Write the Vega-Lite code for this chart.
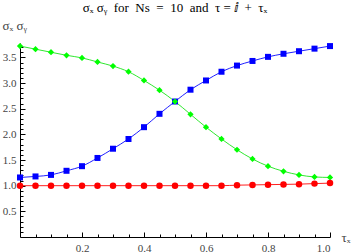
{
  "$schema": "https://vega.github.io/schema/vega-lite/v6.json",
  "width": 310,
  "height": 194,
  "autosize": "none",
  "padding": {"left": 20, "top": 43, "right": 30, "bottom": 15},
  "title": {
    "text": "σₓ σᵧ\u00a0\u00a0for\u00a0\u00a0Ns\u00a0\u00a0=\u00a0\u00a010\u00a0\u00a0and\u00a0\u00a0τ\u00a0=\u00a0ⅈ\u00a0\u00a0+\u00a0\u00a0τₓ",
    "font": "Liberation Serif",
    "fontSize": 13,
    "fontWeight": "normal",
    "color": "#000000",
    "anchor": "middle",
    "frame": "group",
    "baseline": "alphabetic",
    "offset": -6
  },
  "config": {
    "view": {"stroke": null},
    "axis": {
      "labelFont": "Liberation Serif",
      "titleFont": "Liberation Serif",
      "labelColor": "#444444",
      "titleColor": "#444444",
      "labelFontSize": 11,
      "titleFontSize": 13,
      "titleFontWeight": "normal",
      "domainColor": "#000000",
      "tickColor": "#000000",
      "grid": false
    }
  },
  "data": {
    "values": [
      {"tau": 0.00, "v": 1.16, "s": "s1"}, {"tau": 0.05, "v": 1.18, "s": "s1"}, {"tau": 0.10, "v": 1.21, "s": "s1"},
      {"tau": 0.15, "v": 1.29, "s": "s1"}, {"tau": 0.20, "v": 1.38, "s": "s1"}, {"tau": 0.25, "v": 1.54, "s": "s1"},
      {"tau": 0.30, "v": 1.72, "s": "s1"}, {"tau": 0.35, "v": 1.91, "s": "s1"}, {"tau": 0.40, "v": 2.14, "s": "s1"},
      {"tau": 0.45, "v": 2.40, "s": "s1"}, {"tau": 0.50, "v": 2.64, "s": "s1"}, {"tau": 0.55, "v": 2.87, "s": "s1"},
      {"tau": 0.60, "v": 3.05, "s": "s1"}, {"tau": 0.65, "v": 3.22, "s": "s1"}, {"tau": 0.70, "v": 3.34, "s": "s1"},
      {"tau": 0.75, "v": 3.43, "s": "s1"}, {"tau": 0.80, "v": 3.51, "s": "s1"}, {"tau": 0.85, "v": 3.57, "s": "s1"},
      {"tau": 0.90, "v": 3.62, "s": "s1"}, {"tau": 0.95, "v": 3.67, "s": "s1"}, {"tau": 1.00, "v": 3.72, "s": "s1"},
      {"tau": 0.00, "v": 3.72, "s": "s2"}, {"tau": 0.05, "v": 3.66, "s": "s2"}, {"tau": 0.10, "v": 3.60, "s": "s2"},
      {"tau": 0.15, "v": 3.54, "s": "s2"}, {"tau": 0.20, "v": 3.49, "s": "s2"}, {"tau": 0.25, "v": 3.41, "s": "s2"},
      {"tau": 0.30, "v": 3.33, "s": "s2"}, {"tau": 0.35, "v": 3.22, "s": "s2"}, {"tau": 0.40, "v": 3.05, "s": "s2"},
      {"tau": 0.45, "v": 2.86, "s": "s2"}, {"tau": 0.50, "v": 2.64, "s": "s2"}, {"tau": 0.55, "v": 2.39, "s": "s2"},
      {"tau": 0.60, "v": 2.14, "s": "s2"}, {"tau": 0.65, "v": 1.91, "s": "s2"}, {"tau": 0.70, "v": 1.70, "s": "s2"},
      {"tau": 0.75, "v": 1.52, "s": "s2"}, {"tau": 0.80, "v": 1.38, "s": "s2"}, {"tau": 0.85, "v": 1.28, "s": "s2"},
      {"tau": 0.90, "v": 1.21, "s": "s2"}, {"tau": 0.95, "v": 1.17, "s": "s2"}, {"tau": 1.00, "v": 1.16, "s": "s2"},
      {"tau": 0.00, "v": 1.00, "s": "s3"}, {"tau": 0.05, "v": 1.00, "s": "s3"}, {"tau": 0.10, "v": 1.00, "s": "s3"},
      {"tau": 0.15, "v": 1.00, "s": "s3"}, {"tau": 0.20, "v": 1.00, "s": "s3"}, {"tau": 0.25, "v": 1.00, "s": "s3"},
      {"tau": 0.30, "v": 1.00, "s": "s3"}, {"tau": 0.35, "v": 1.00, "s": "s3"}, {"tau": 0.40, "v": 1.00, "s": "s3"},
      {"tau": 0.45, "v": 1.00, "s": "s3"}, {"tau": 0.50, "v": 1.00, "s": "s3"}, {"tau": 0.55, "v": 1.00, "s": "s3"},
      {"tau": 0.60, "v": 1.00, "s": "s3"}, {"tau": 0.65, "v": 1.00, "s": "s3"}, {"tau": 0.70, "v": 1.01, "s": "s3"},
      {"tau": 0.75, "v": 1.015, "s": "s3"}, {"tau": 0.80, "v": 1.02, "s": "s3"}, {"tau": 0.85, "v": 1.025, "s": "s3"},
      {"tau": 0.90, "v": 1.03, "s": "s3"}, {"tau": 0.95, "v": 1.04, "s": "s3"}, {"tau": 1.00, "v": 1.05, "s": "s3"}
    ]
  },
  "layer": [
    {
      "mark": {"type": "line", "interpolate": "monotone", "strokeWidth": 1, "clip": false},
      "encoding": {
        "x": {
          "field": "tau", "type": "quantitative",
          "scale": {"domain": [0, 1], "nice": false, "zero": false},
          "axis": {
            "orient": "bottom", "title": "τₓ", "values": [0.2, 0.4, 0.6, 0.8, 1.0], "format": ".1f",
            "tickSize": -5, "labelPadding": 10, "domainWidth": 1,
            "titleX": 321, "titleY": 4, "titleAlign": "left", "titleBaseline": "alphabetic", "titleAnchor": null
          }
        },
        "y": {
          "field": "v", "type": "quantitative",
          "scale": {"domain": [0, 3.78], "nice": false, "zero": true},
          "axis": {
            "orient": "left", "title": "σₓ\u00a0σᵧ", "values": [0.5, 1.0, 1.5, 2.0, 2.5, 3.0, 3.5], "format": ".1f",
            "tickSize": -5, "labelPadding": 9,
            "titleAngle": 0, "titleX": -18, "titleY": -14, "titleAlign": "left", "titleBaseline": "alphabetic", "titleAnchor": null
          }
        },
        "color": {"field": "s", "type": "nominal", "scale": {"domain": ["s1", "s2", "s3"], "range": ["#2020ff", "#30e830", "#ff2020"]}, "legend": null}
      }
    },
    {
      "mark": {"type": "point", "filled": true, "opacity": 1, "clip": false},
      "encoding": {
        "x": {
          "field": "tau", "type": "quantitative",
          "axis": {
            "orient": "bottom", "title": null, "labels": false, "domain": false,
            "values": [0.05, 0.1, 0.15, 0.25, 0.3, 0.35, 0.45, 0.5, 0.55, 0.65, 0.7, 0.75, 0.85, 0.9, 0.95],
            "tickSize": -3
          }
        },
        "y": {
          "field": "v", "type": "quantitative",
          "axis": {
            "orient": "left", "title": null, "labels": false, "domain": false,
            "values": [0.1, 0.2, 0.3, 0.4, 0.6, 0.7, 0.8, 0.9, 1.1, 1.2, 1.3, 1.4, 1.6, 1.7, 1.8, 1.9, 2.1, 2.2, 2.3, 2.4, 2.6, 2.7, 2.8, 2.9, 3.1, 3.2, 3.3, 3.4, 3.6, 3.7],
            "tickSize": -3
          }
        },
        "color": {"field": "s", "type": "nominal", "scale": {"domain": ["s1", "s2", "s3"], "range": ["#0000ff", "#00ff00", "#ff0000"]}, "legend": null},
        "shape": {"field": "s", "type": "nominal", "scale": {"domain": ["s1", "s2", "s3"], "range": ["square", "diamond", "circle"]}, "legend": null},
        "size": {"field": "s", "type": "nominal", "scale": {"domain": ["s1", "s2", "s3"], "range": [36, 42, 42]}, "legend": null}
      }
    }
  ],
  "resolve": {"axis": {"x": "independent", "y": "independent"}, "scale": {"color": "independent"}}
}
